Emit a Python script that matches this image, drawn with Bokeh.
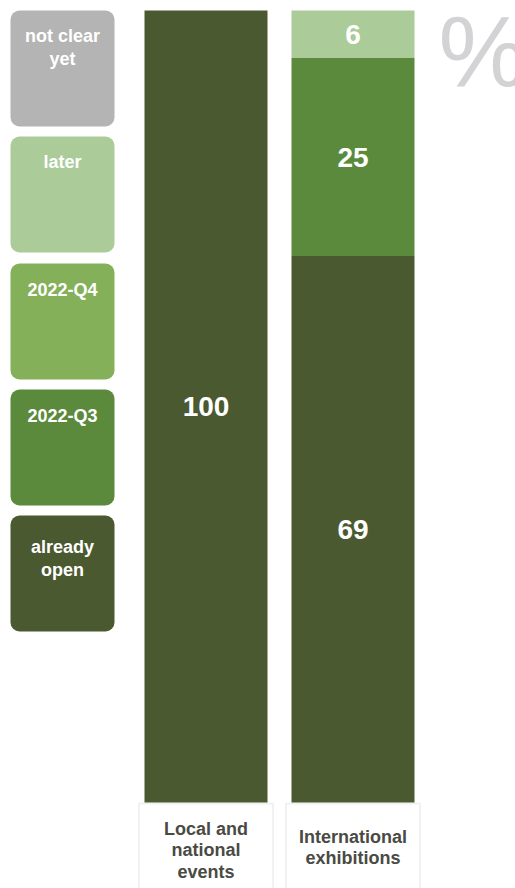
from bokeh.plotting import figure
from bokeh.models import ColumnDataSource, Range1d, BoxAnnotation
from bokeh.core.properties import value
from bokeh.embed import file_html
from bokeh.resources import INLINE

# ---- data ----
categories = ["Local and national events", "International exhibitions"]
category_labels = ["Local and\nnational\nevents", "International\nexhibitions"]
series = ["already open", "2022-Q3", "2022-Q4", "later", "not clear yet"]
series_labels = ["already\nopen", "2022-Q3", "2022-Q4", "later", "not clear\nyet"]
already_open = [100, 69]
q3 = [0, 25]
q4 = [0, 0]
later = [0, 6]
not_clear = [0, 0]
colors = ["#4B5930", "#5B8A3C", "#84B05A", "#ABCB99", "#B4B4B4"]

# ---- layout (picture pixels) ----
W, H = 515, 888
BAR_TOP_PX, BAR_BOT_PX = 10, 802
PX_PER_PCT = (BAR_BOT_PX - BAR_TOP_PX) / 100.0
def py(y):
    return (BAR_BOT_PX - y) / PX_PER_PCT

bar_x = [205.5, 352.5]
bar_w = 123
FONT = "Liberation Sans"

p = figure(width=W, height=H, output_backend="svg", toolbar_location=None,
           x_range=Range1d(0, W), y_range=Range1d(py(H), py(0)),
           min_border=0)
p.axis.visible = False
p.grid.visible = False
p.outline_line_color = None
p.background_fill_color = "white"

# bars
src = ColumnDataSource(dict(x=bar_x, cat=categories,
                            **{"already open": already_open, "2022-Q3": q3, "2022-Q4": q4,
                               "later": later, "not clear yet": not_clear}))
p.vbar_stack(series, x="x", width=bar_w, color=colors, line_color=None, source=src)

# value labels
vals = [already_open, q3, q4, later, not_clear]
lx, ly, lt = [], [], []
for i in range(len(categories)):
    base = 0
    for s in vals:
        v = s[i]
        if v > 0:
            lx.append(bar_x[i]); ly.append(base + v / 2); lt.append(str(v))
        base += v
p.text(lx, ly, text=lt, text_font=value(FONT), text_font_style="bold",
       text_font_size="28px", text_color="white", text_align="center",
       text_baseline="middle")

# category label boxes
for i, lab in enumerate(category_labels):
    p.add_layout(BoxAnnotation(left=bar_x[i] - 67, right=bar_x[i] + 67,
                               top=py(803), bottom=py(960),
                               fill_color="white", fill_alpha=1,
                               line_color="#CFCFCF", line_width=2,
                               level="underlay"))
p.text(bar_x, [py(850), py(847)], text=category_labels, text_font=value(FONT),
       text_font_style="bold", text_font_size="18px", text_color="#4A4A44",
       text_align="center", text_baseline="middle", text_line_height=1.08)

# legend boxes
leg_tops = [515, 389, 263, 136, 10]
leg_text_off = [21, 16, 16, 15, 15]
for top, c in zip(leg_tops, colors):
    p.add_layout(BoxAnnotation(left=10, right=114, top=py(top), bottom=py(top + 116),
                               fill_color=c, fill_alpha=1, line_color=None,
                               border_radius=9, level="underlay"))
p.text([62] * 5, [py(t + o) for t, o in zip(leg_tops, leg_text_off)], text=series_labels,
       text_font=value(FONT), text_font_style="bold", text_font_size="18px",
       text_color="white", text_align="center", text_baseline="top",
       text_line_height=1.16)

# percent sign
p.text([438], [py(50)], text=["%"], text_font=value(FONT), text_font_size="100px",
       text_color="#D3D3D5", text_align="left", text_baseline="alphabetic")

open("out.html", "w").write(file_html(p, INLINE))
